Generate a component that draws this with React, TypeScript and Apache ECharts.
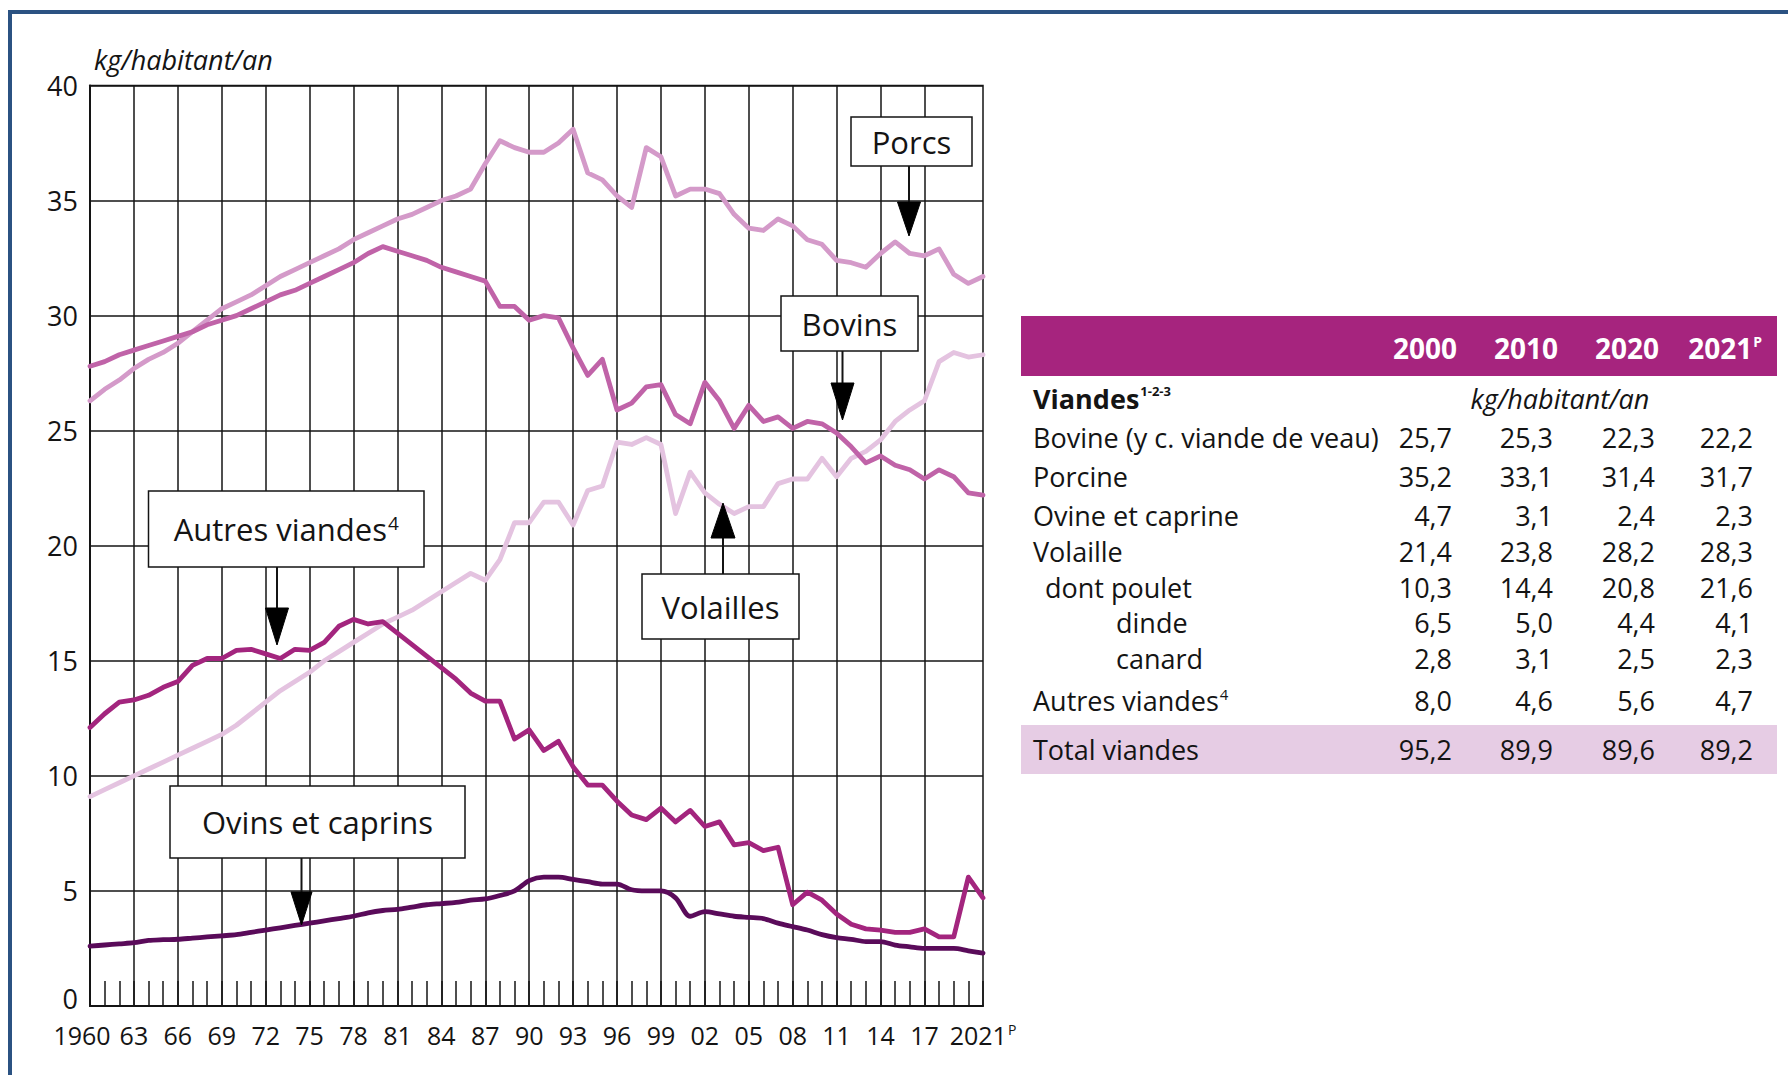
import React, { useEffect, useRef } from 'react';
import * as echarts from 'echarts';

const FONT = "'Open Sans', 'Noto Sans', sans-serif";

const years = [
  '1960','1961','1962','1963','1964','1965','1966','1967','1968','1969',
  '1970','1971','1972','1973','1974','1975','1976','1977','1978','1979',
  '1980','1981','1982','1983','1984','1985','1986','1987','1988','1989',
  '1990','1991','1992','1993','1994','1995','1996','1997','1998','1999',
  '2000','2001','2002','2003','2004','2005','2006','2007','2008','2009',
  '2010','2011','2012','2013','2014','2015','2016','2017','2018','2019',
  '2020','2021'
];

const porcs = [
  26.3, 26.8, 27.2, 27.7, 28.1, 28.4, 28.8, 29.3, 29.8, 30.3,
  30.6, 30.9, 31.3, 31.7, 32.0, 32.3, 32.6, 32.9, 33.3, 33.6,
  33.9, 34.2, 34.4, 34.7, 35.0, 35.2, 35.5, 36.6, 37.6, 37.3,
  37.1, 37.1, 37.5, 38.1, 36.2, 35.9, 35.2, 34.7, 37.3, 36.9,
  35.2, 35.5, 35.5, 35.3, 34.4, 33.8, 33.7, 34.2, 33.9, 33.3,
  33.1, 32.4, 32.3, 32.1, 32.7, 33.2, 32.7, 32.6, 32.9, 31.8,
  31.4, 31.7
];

const bovins = [
  27.8, 28.0, 28.3, 28.5, 28.7, 28.9, 29.1, 29.3, 29.6, 29.8,
  30.0, 30.3, 30.6, 30.9, 31.1, 31.4, 31.7, 32.0, 32.3, 32.7,
  33.0, 32.8, 32.6, 32.4, 32.1, 31.9, 31.7, 31.5, 30.4, 30.4,
  29.8, 30.0, 29.9, 28.6, 27.4, 28.1, 25.9, 26.2, 26.9, 27.0,
  25.7, 25.3, 27.1, 26.3, 25.1, 26.1, 25.4, 25.6, 25.1, 25.4,
  25.3, 24.9, 24.3, 23.6, 23.9, 23.5, 23.3, 22.9, 23.3, 23.0,
  22.3, 22.2
];

const volailles = [
  9.1, 9.4, 9.7, 10.0, 10.3, 10.6, 10.9, 11.2, 11.5, 11.8,
  12.2, 12.7, 13.2, 13.7, 14.1, 14.5, 15.0, 15.4, 15.8, 16.2,
  16.6, 16.9, 17.2, 17.6, 18.0, 18.4, 18.8, 18.5, 19.4, 21.0,
  21.0, 21.9, 21.9, 20.9, 22.4, 22.6, 24.5, 24.4, 24.7, 24.4,
  21.4, 23.2, 22.3, 21.8, 21.4, 21.7, 21.7, 22.7, 22.9, 22.9,
  23.8, 23.0, 23.8, 24.1, 24.6, 25.4, 25.9, 26.3, 28.0, 28.4,
  28.2, 28.3
];

const autresViandes = [
  12.1, 12.7, 13.2, 13.3, 13.5, 13.85, 14.1, 14.8, 15.1, 15.1,
  15.45, 15.5, 15.3, 15.1, 15.5, 15.45, 15.8, 16.5, 16.8, 16.6,
  16.7, 16.2, 15.7, 15.2, 14.7, 14.2, 13.6, 13.25, 13.25, 11.6,
  12.0, 11.1, 11.5, 10.4, 9.6, 9.6, 8.9, 8.3, 8.1, 8.6,
  8.0, 8.5, 7.8, 8.0, 7.0, 7.1, 6.75, 6.9, 4.4, 4.95,
  4.6, 4.0, 3.55, 3.35, 3.3, 3.2, 3.2, 3.35, 3.0, 3.0,
  5.6, 4.7
];

const ovins = [
  2.6, 2.65, 2.7, 2.75, 2.85, 2.88, 2.9, 2.95, 3.0, 3.05,
  3.1, 3.2, 3.3, 3.4, 3.5, 3.6, 3.7, 3.8, 3.9, 4.05,
  4.15, 4.2, 4.3, 4.4, 4.45, 4.5, 4.6, 4.65, 4.8, 5.0,
  5.45, 5.6, 5.6, 5.5, 5.4, 5.3, 5.3, 5.05, 5.0, 5.0,
  4.7, 3.9, 4.1, 4.0, 3.9, 3.85, 3.8, 3.6, 3.45, 3.3,
  3.1, 2.97, 2.9, 2.8, 2.8, 2.65, 2.57, 2.5, 2.5, 2.5,
  2.4, 2.3
];

// Table data
const tableYears = ['2000', '2010', '2020', '2021'];
const tableLabels = [
  'Bovine (y c. viande de veau)', 'Porcine', 'Ovine et caprine', 'Volaille',
  'dont poulet', 'dinde', 'canard', 'Autres viandes', 'Total viandes'
];
const col2000 = [25.7, 35.2, 4.7, 21.4, 10.3, 6.5, 2.8, 8.0, 95.2];
const col2010 = [25.3, 33.1, 3.1, 23.8, 14.4, 5.0, 3.1, 4.6, 89.9];
const col2020 = [22.3, 31.4, 2.4, 28.2, 20.8, 4.4, 2.5, 5.6, 89.6];
const col2021 = [22.2, 31.7, 2.3, 28.3, 21.6, 4.1, 2.3, 4.7, 89.2];

const C_PORCS = '#d49ac9';
const C_BOVINS = '#c063a8';
const C_VOLAILLES = '#e4c3e0';
const C_AUTRES = '#a3257e';
const C_OVINS = '#5a0b5a';
const INK = '#141414';

function fmt(v: number) {
  return v.toFixed(1).replace('.', ',');
}

function labelBox(x1: number, y1: number, x2: number, y2: number, text: string, rich?: any) {
  const els: any[] = [
    {
      type: 'rect', z: 50,
      shape: { x: x1, y: y1, width: x2 - x1, height: y2 - y1 },
      style: { fill: '#fff', stroke: INK, lineWidth: 1.5 },
    },
    {
      type: 'text', z: 51,
      x: (x1 + x2) / 2, y: (y1 + y2) / 2,
      style: {
        text, fill: INK, fontSize: 31, fontFamily: FONT,
        align: 'center', verticalAlign: 'middle', rich,
      },
    },
  ];
  return els;
}

function arrow(x: number, yStart: number, baseY: number, tipY: number, half: number) {
  return [
    {
      type: 'line', z: 50,
      shape: { x1: x, y1: yStart, x2: x, y2: baseY },
      style: { stroke: INK, lineWidth: 2 },
    },
    {
      type: 'polygon', z: 50,
      shape: { points: [[x - half, baseY], [x + half, baseY], [x, tipY]] },
      style: { fill: '#000', stroke: '#000', lineWidth: 1 },
    },
  ];
}

function buildTable() {
  const els: any[] = [];
  const rowY = [437, 476, 515, 551, 587, 622, 658, 700, 749];
  const rowX = [1033, 1033, 1033, 1033, 1045, 1116, 1116, 1033, 1033];
  const colRight = [1452, 1553, 1655, 1753];
  const headRight = [1457, 1558, 1659, 1762];
  const cols = [col2000, col2010, col2020, col2021];

  els.push({
    type: 'rect', z: 5,
    shape: { x: 1021, y: 316, width: 756, height: 60 },
    style: { fill: '#a6247e' },
  });
  els.push({
    type: 'rect', z: 5,
    shape: { x: 1021, y: 725, width: 756, height: 49 },
    style: { fill: '#e6cce4' },
  });
  tableYears.forEach((yr, i) => {
    const isLast = i === tableYears.length - 1;
    els.push({
      type: 'text', z: 6,
      x: headRight[i], y: 348,
      style: {
        text: isLast ? `{y|${yr}}{p|P}` : yr,
        fill: '#fff', fontSize: 28, fontWeight: 'bold', fontFamily: FONT,
        align: 'right', verticalAlign: 'middle',
        rich: {
          y: { fill: '#fff', fontSize: 28, fontWeight: 'bold', fontFamily: FONT },
          p: { fill: '#fff', fontSize: 14, fontWeight: 'bold', fontFamily: FONT, verticalAlign: 'top', padding: [0, 0, 12, 1] },
        },
      },
    });
  });
  els.push({
    type: 'text', z: 6, x: 1033, y: 398,
    style: {
      text: '{b|Viandes}{s|1-2-3}', fill: INK, fontFamily: FONT,
      verticalAlign: 'middle',
      rich: {
        b: { fill: INK, fontSize: 27, fontWeight: 'bold', fontFamily: FONT },
        s: { fill: INK, fontSize: 13, fontWeight: 'bold', fontFamily: FONT, verticalAlign: 'top', padding: [0, 0, 12, 1] },
      },
    },
  });
  els.push({
    type: 'text', z: 6, x: 1560, y: 398,
    style: {
      text: 'kg/habitant/an', fill: INK, fontSize: 27, fontStyle: 'italic', fontFamily: FONT,
      align: 'center', verticalAlign: 'middle',
    },
  });
  tableLabels.forEach((lab, r) => {
    const sup = lab === 'Autres viandes';
    els.push({
      type: 'text', z: 6, x: rowX[r], y: rowY[r],
      style: {
        text: sup ? `{t|${lab}}{s|4}` : lab,
        fill: INK, fontSize: 27, fontFamily: FONT,
        verticalAlign: 'middle',
        rich: {
          t: { fill: INK, fontSize: 27, fontFamily: FONT },
          s: { fill: INK, fontSize: 15, fontFamily: FONT, verticalAlign: 'top', padding: [0, 0, 12, 1] },
        },
      },
    });
    cols.forEach((col, c) => {
      els.push({
        type: 'text', z: 6, x: colRight[c], y: rowY[r],
        style: {
          text: fmt(col[r]), fill: INK, fontSize: 27, fontFamily: FONT,
          align: 'right', verticalAlign: 'middle',
        },
      });
    });
  });
  return els;
}

export default function App() {
  const ref = useRef<HTMLDivElement>(null);

  useEffect(() => {
    if (!ref.current) return;
    const chart = echarts.init(ref.current, null, { renderer: 'svg' });
    const lineSeries = (name: string, data: number[], color: string, smooth: number | boolean = false) => ({
      name, type: 'line', data, showSymbol: false, symbol: 'none', smooth,
      lineStyle: { color, width: 4.8, join: 'round', cap: 'round' },
      itemStyle: { color },
      emphasis: { disabled: true },
    });

    const supRich = {
      t: { fill: INK, fontSize: 31, fontFamily: FONT },
      s: { fill: INK, fontSize: 19, fontFamily: FONT, verticalAlign: 'top', padding: [0, 0, 12, 1] },
    };

    const graphic: any[] = [
      { type: 'line', z: 60, shape: { x1: 8, y1: 12, x2: 1788, y2: 12 }, style: { stroke: '#2b5282', lineWidth: 4 } },
      { type: 'line', z: 60, shape: { x1: 10, y1: 10, x2: 10, y2: 1075 }, style: { stroke: '#2b5282', lineWidth: 4 } },
      {
        type: 'text', z: 6, x: 94, y: 59,
        style: { text: 'kg/habitant/an', fill: INK, fontSize: 27, fontStyle: 'italic', fontFamily: FONT, verticalAlign: 'middle' },
      },
      ...arrow(909, 166, 202, 236, 11.5),
      ...labelBox(851, 117, 972, 166, 'Porcs'),
      ...arrow(842.5, 351, 383, 420, 11.5),
      ...labelBox(781, 296, 918, 351, 'Bovins'),
      ...arrow(723, 574, 538, 503, 12),
      ...labelBox(642, 574, 799, 639, 'Volailles'),
      ...arrow(277, 567, 608, 645, 11.5),
      ...labelBox(148.5, 491, 424, 567, '{t|Autres viandes}{s|4}', supRich),
      ...arrow(301.5, 858, 892, 925, 10.5),
      ...labelBox(170, 786, 465, 858, 'Ovins et caprins'),
      ...buildTable(),
    ];

    const option: any = {
      animation: false,
      backgroundColor: '#ffffff',
      textStyle: { fontFamily: FONT },
      grid: {
        left: 90, right: 805, top: 85.5, bottom: 69,
        show: true, borderColor: INK, borderWidth: 1.5, backgroundColor: 'transparent',
      },
      xAxis: {
        type: 'category',
        data: years,
        boundaryGap: false,
        axisLine: { show: true, lineStyle: { color: INK, width: 2 } },
        axisTick: {
          show: true, inside: true, length: 25, interval: 0,
          lineStyle: { color: INK, width: 1.5 },
        },
        splitLine: {
          show: true,
          interval: (i: number) => i % 3 === 0 && i <= 57,
          lineStyle: { color: INK, width: 1.5 },
        },
        axisLabel: {
          interval: (i: number) => (i % 3 === 0 && i <= 57) || i === 61,
          color: INK, fontSize: 25, fontFamily: FONT, margin: 16,
          formatter: (v: string, i: number) => {
            if (i === 0) return '{f|1960}';
            if (i === 61) return '{y|2021}{p|P}';
            return v.slice(2);
          },
          rich: {
            f: { color: INK, fontSize: 25, fontFamily: FONT, padding: [0, 16, 0, 0] },
            y: { color: INK, fontSize: 25, fontFamily: FONT },
            p: { color: INK, fontSize: 14, fontFamily: FONT, verticalAlign: 'top', padding: [0, 0, 10, 1] },
          },
        },
      },
      yAxis: {
        type: 'value',
        min: 0, max: 40, interval: 5,
        axisLine: { show: true, lineStyle: { color: INK, width: 2 } },
        axisTick: { show: false },
        splitLine: { show: true, lineStyle: { color: INK, width: 1.5 } },
        axisLabel: {
          color: INK, fontSize: 27, fontFamily: FONT, margin: 12,
          formatter: (v: number) => (v === 0 ? '{z|0}' : String(v)),
          rich: {
            z: { color: INK, fontSize: 27, fontFamily: FONT, padding: [0, 0, 16, 0] },
          },
        },
      },
      series: [
        lineSeries('Volailles', volailles, C_VOLAILLES),
        lineSeries('Porcs', porcs, C_PORCS),
        lineSeries('Bovins', bovins, C_BOVINS),
        lineSeries('Autres viandes', autresViandes, C_AUTRES),
        lineSeries('Ovins et caprins', ovins, C_OVINS, 0.3),
      ],
      graphic,
    };
    chart.setOption(option);
    return () => chart.dispose();
  }, []);

  return (
    <div
      ref={ref}
      style={{ position: 'fixed', left: 0, top: 0, width: 1788, height: 1075, background: '#fff' }}
    />
  );
}
